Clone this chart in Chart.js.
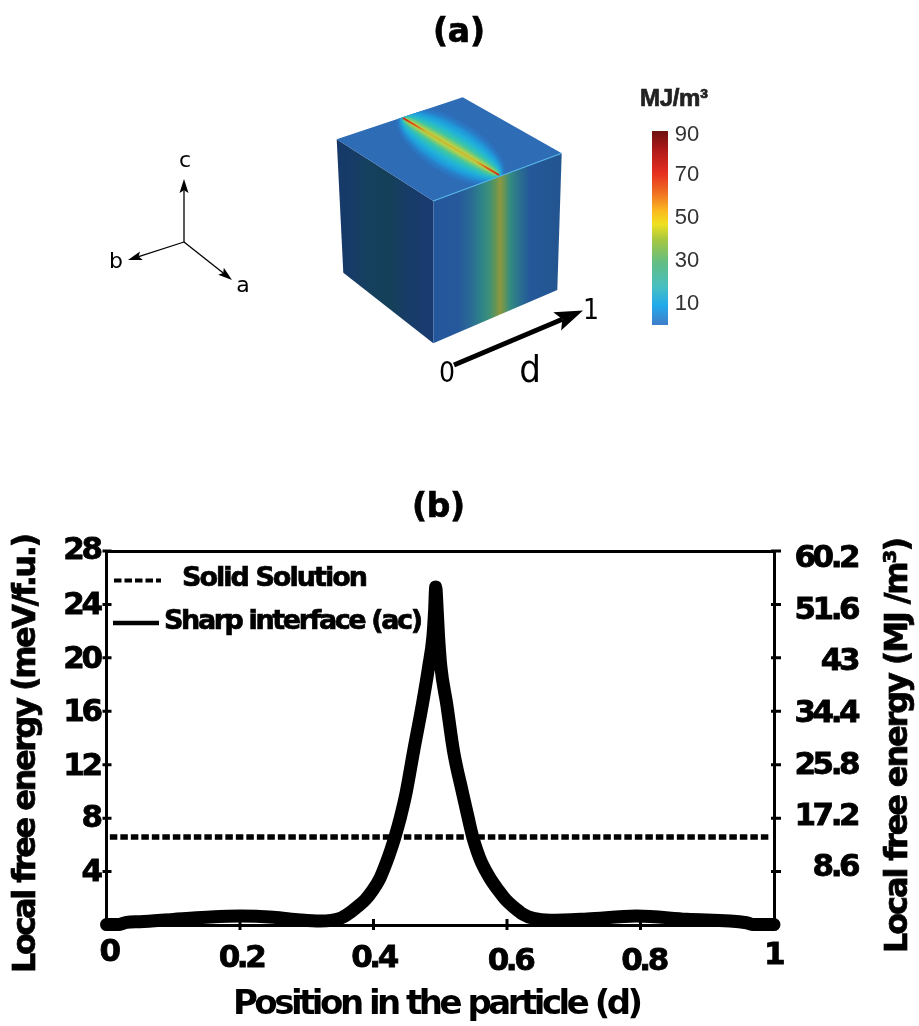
<!DOCTYPE html>
<html>
<head>
<meta charset="utf-8">
<style>
  html, body { margin: 0; background: #fff; }
  canvas { display: block; }
</style>
<script src="https://cdn.jsdelivr.net/npm/chart.js@4"></script>
</head>
<body>
<canvas id="chartEnergy" width="919" height="1026"></canvas>
<script>
// values ---------------------------------------------------------------------
const positions = [0, 0.015, 0.02, 0.03, 0.05, 0.1, 0.15, 0.2, 0.25, 0.29, 0.32, 0.35, 0.3625, 0.3757, 0.3875, 0.3988,
  0.4092, 0.4187, 0.4258, 0.4322, 0.4405, 0.4487, 0.4604, 0.4735, 0.4825, 0.489, 0.4915, 0.4932, 0.4955, 0.4975, 0.501,
  0.5095, 0.5196, 0.5335, 0.5415, 0.5486, 0.5555, 0.5625, 0.5745, 0.587, 0.598, 0.6094, 0.6245, 0.639, 0.665,
  0.72, 0.794, 0.869, 0.959, 0.969, 0.985, 1];
const sharpInterface = [0.03, 0.03, 0.05, 0.2, 0.25, 0.42, 0.58, 0.67, 0.58, 0.38, 0.3, 0.5, 0.85, 1.37, 1.88, 2.6,
  3.45, 4.6, 5.6, 6.6, 8.1, 9.86, 13.1, 16.6, 19.3, 21.6, 23.5, 25.3, 23.5, 21.6, 19.3,
  16.6, 13.1, 9.86, 8.1, 6.6, 5.5, 4.6, 3.5, 2.6, 1.9, 1.37, 0.8, 0.5, 0.35,
  0.45, 0.67, 0.43, 0.17, 0.03, 0.03, 0.03];
const solidPositions = [0.005, 0.995];
const solidSolution = [6.59, 6.59];

const xTicks = [0, 0.2, 0.4, 0.6, 0.8, 1];
const yLeftTicks = [4, 8, 12, 16, 20, 24, 28];
const yRightTicks = [8.6, 17.2, 25.8, 34.4, 43, 51.6, 60.2];
const colorbarLabels = ['10', '30', '50', '70', '90'];

const TITLE_FONT = 'bold 32px "DejaVu Sans"';

// small drawing helpers --------------------------------------------------------
function fitText(ctx, text, x, y, width, font, color) {
  ctx.save();
  ctx.font = font;
  ctx.letterSpacing = '0px';
  const natural = ctx.measureText(text).width;
  ctx.letterSpacing = ((width - natural) / (text.length - 1)) + 'px';
  ctx.textAlign = 'left';
  ctx.textBaseline = 'middle';
  ctx.fillStyle = color || '#000';
  ctx.strokeStyle = color || '#000';
  ctx.lineWidth = 0.7;
  ctx.fillText(text, x, y);
  ctx.strokeText(text, x, y);
  ctx.restore();
}

function fitTextUp(ctx, text, x, yBottom, width, font) {
  ctx.save();
  ctx.translate(x, yBottom);
  ctx.rotate(-Math.PI / 2);
  fitText(ctx, text, 0, 0, width, font);
  ctx.restore();
}

function plainText(ctx, text, x, y, font, color) {
  ctx.save();
  ctx.letterSpacing = '0px';
  ctx.font = font;
  ctx.fillStyle = color || '#000';
  ctx.textAlign = 'center';
  ctx.textBaseline = 'middle';
  ctx.fillText(text, x, y);
  ctx.restore();
}

function arrow(ctx, x0, y0, x1, y1, lineWidth, headLength, headWidth) {
  const a = Math.atan2(y1 - y0, x1 - x0);
  const bx = x1 - Math.cos(a) * headLength * 0.8;
  const by = y1 - Math.sin(a) * headLength * 0.8;
  ctx.strokeStyle = '#000';
  ctx.fillStyle = '#000';
  ctx.lineWidth = lineWidth;
  ctx.beginPath();
  ctx.moveTo(x0, y0);
  ctx.lineTo(bx, by);
  ctx.stroke();
  const wx = Math.cos(a + Math.PI / 2) * headWidth / 2;
  const wy = Math.sin(a + Math.PI / 2) * headWidth / 2;
  ctx.beginPath();
  ctx.moveTo(x1, y1);
  ctx.lineTo(x1 - Math.cos(a) * headLength + wx, y1 - Math.sin(a) * headLength + wy);
  ctx.lineTo(bx, by);
  ctx.lineTo(x1 - Math.cos(a) * headLength - wx, y1 - Math.sin(a) * headLength - wy);
  ctx.closePath();
  ctx.fill();
}

function polygon(ctx, pts) {
  ctx.beginPath();
  pts.forEach((p, i) => (i ? ctx.lineTo(p[0], p[1]) : ctx.moveTo(p[0], p[1])));
  ctx.closePath();
}

function gradientOf(ctx, x0, y0, x1, y1, stops) {
  const g = ctx.createLinearGradient(x0, y0, x1, y1);
  stops.forEach(s => g.addColorStop(s[0], s[1]));
  return g;
}

// panel (a) ----------------------------------------------------------------------
function drawCube(ctx) {
  const topLeft = [336.7, 139.3], topBack = [462.7, 97.3], topRight = [561.7, 153.3], front = [433.3, 201];
  const botFront = [433.3, 343.3], botLeft = [343.3, 272.7], botRight = [557.3, 290];

  ctx.save();
  polygon(ctx, [topLeft, front, botFront, botLeft]);
  ctx.fillStyle = gradientOf(ctx, 337, 0, 433, 0, [
    [0, '#16396a'], [0.18, '#173c66'], [0.34, '#15405e'], [0.55, '#144058'], [0.72, '#173c66'], [1, '#1a3a72']]);
  ctx.fill();

  polygon(ctx, [front, topRight, botRight, botFront]);
  ctx.fillStyle = gradientOf(ctx, 433, 0, 561, 0, [
    [0, '#24569c'], [0.2, '#26599b'], [0.3, '#2a6c95'], [0.38, '#2e8488'], [0.44, '#3d9078'], [0.49, '#659652'],
    [0.523, '#8f9640'], [0.555, '#6a9652'], [0.6, '#348c80'], [0.68, '#2a6e90'], [0.76, '#24589a'], [1, '#23558f']]);
  ctx.fill();

  polygon(ctx, [topLeft, topBack, topRight, front]);
  ctx.fillStyle = '#2e6cb6';
  ctx.fill();
  ctx.clip();

  // the bright lens on the top face, a slit from (403,118) to (499,175)
  const x0 = 403, y0 = 118, x1 = 499, y1 = 175;
  const angle = Math.atan2(y1 - y0, x1 - x0);
  const lens = [[60, 26, '#2a7cc8'], [58, 21, '#1f9ddc'], [57, 16, '#22b4d8'], [56, 11, '#35c4b0'], [55, 6, '#7acc70'], [54, 3, '#c8d040']];
  ctx.filter = 'blur(1.5px)';
  lens.forEach(l => {
    ctx.beginPath();
    ctx.ellipse((x0 + x1) / 2, (y0 + y1) / 2, l[0], l[1], angle, 0, Math.PI * 2);
    ctx.fillStyle = l[2];
    ctx.fill();
  });
  ctx.filter = 'blur(0.5px)';
  ctx.strokeStyle = gradientOf(ctx, x0, y0, x1, y1, [
    [0, '#d02a12'], [0.12, '#e0501a'], [0.24, '#c8b830'], [0.76, '#c8b830'], [0.88, '#e0501a'], [1, '#d02a12']]);
  ctx.lineWidth = 2;
  ctx.beginPath();
  ctx.moveTo(x0, y0);
  ctx.lineTo(x1, y1);
  ctx.stroke();
  ctx.restore();

  ctx.save();
  ctx.strokeStyle = '#55b4e6';
  ctx.lineWidth = 1.2;
  ctx.beginPath();
  ctx.moveTo(front[0], front[1]);
  ctx.lineTo(topRight[0], topRight[1]);
  ctx.stroke();
  ctx.restore();
}

function drawPanelA(ctx) {
  fitText(ctx, '(a)', 433, 33, 52, 'bold 33px "DejaVu Sans"');

  // crystal axes
  ctx.save();
  arrow(ctx, 184, 242, 184, 179, 1.3, 14, 9);
  arrow(ctx, 184, 242, 128, 260, 1.3, 14, 9);
  arrow(ctx, 184, 242, 232, 280, 1.3, 14, 9);
  ctx.restore();
  const axisFont = '22px "DejaVu Sans"';
  plainText(ctx, 'c', 185, 161, axisFont);
  plainText(ctx, 'b', 116, 262, axisFont);
  plainText(ctx, 'a', 243, 286, axisFont);

  drawCube(ctx);

  // position arrow along the particle
  ctx.save();
  arrow(ctx, 454, 365, 583, 310.5, 5, 28, 20);
  ctx.restore();
  const bigFont = '28px "DejaVu Sans Condensed", "DejaVu Sans"';
  plainText(ctx, '0', 447, 375, bigFont);
  plainText(ctx, '1', 591, 312, bigFont);
  plainText(ctx, 'd', 530, 372, '38px "DejaVu Sans Condensed", "DejaVu Sans"');

  // color bar
  ctx.save();
  ctx.fillStyle = gradientOf(ctx, 0, 325, 0, 131, [
    [0, '#3f7cc8'], [0.1, '#22aaec'], [0.2, '#48c0c0'], [0.32, '#62bd84'], [0.44, '#a6c840'], [0.52, '#f0e020'],
    [0.59, '#fab820'], [0.68, '#f07022'], [0.78, '#e63020'], [0.9, '#b01a18'], [1, '#6e1010']]);
  ctx.fillRect(652, 131, 16, 194);
  ctx.restore();
  const barFont = '22px "Liberation Sans"';
  const barY = [304, 261, 218, 175, 135];
  colorbarLabels.forEach((t, i) => plainText(ctx, t, 687, barY[i], barFont, '#333'));
  fitText(ctx, 'MJ/m³', 640, 99, 68, 'bold 24px "Liberation Sans"', '#222');
}

// plugin: everything that is not a data mark -------------------------------------
const xLabelNudge = [[2, -6], [1, 0], [0, 0], [3, 3], [3, 3], [-1, -3]];
const leftLabelNudge = [1, 1, 2, 2, 2, 2, 0];
const rightLabelNudge = [-4, -1, 1, 3, 4, 7, 8];
const RIGHT_LABEL_EDGE = 857;

function nudgeLabels(scale, fn) {
  const items = scale.getLabelItems();
  if (items.nudged) return;
  items.nudged = true;
  items.forEach((it, i) => fn(it.options.translation, i));
}

const panelPlugin = {
  id: 'panelPlugin',
  beforeDraw(chart) {
    const ctx = chart.ctx;
    ctx.save();
    ctx.fillStyle = '#fff';
    ctx.fillRect(0, 0, chart.width, chart.height);
    ctx.restore();

    drawPanelA(ctx);
    fitText(ctx, '(b)', 412, 508, 53, 'bold 33px "DejaVu Sans"');

    nudgeLabels(chart.scales.x, (t, i) => { t[0] += xLabelNudge[i][0]; t[1] += xLabelNudge[i][1]; });
    nudgeLabels(chart.scales.y, (t, i) => { t[1] += leftLabelNudge[i]; });
    nudgeLabels(chart.scales.yRight, (t, i) => { t[0] = RIGHT_LABEL_EDGE; t[1] += rightLabelNudge[i]; });

    // ticks cross the axis lines, the library only draws them outwards
    const { x, y, yRight } = chart.scales;
    ctx.save();
    ctx.strokeStyle = '#000';
    ctx.lineWidth = 3;
    ctx.beginPath();
    x.ticks.forEach(t => {
      const px = x.getPixelForValue(t.value);
      ctx.moveTo(px, x.top - 6);
      ctx.lineTo(px, x.top + 5);
    });
    y.ticks.forEach(t => {
      const py = y.getPixelForValue(t.value);
      ctx.moveTo(y.right - 4, py);
      ctx.lineTo(y.right + 5, py);
    });
    yRight.ticks.forEach(t => {
      const py = yRight.getPixelForValue(t.value);
      ctx.moveTo(yRight.left - 3, py);
      ctx.lineTo(yRight.left + 7, py);
    });
    ctx.stroke();
    ctx.restore();

    fitTextUp(ctx, 'Local free energy (meV/f.u.)', 27, 973, 440, TITLE_FONT);
    fitTextUp(ctx, 'Local free energy (MJ /m³)', 899, 953, 416, TITLE_FONT);

    // tick labels in the picture sit tight
    ctx.letterSpacing = '-3.5px';

    const xScale = chart.scales.x;
    if (!xScale.titleMoved) {
      // axis title sits a little left of the plot centre
      xScale.titleMoved = true;
      const drawTitle = xScale.drawTitle;
      xScale.drawTitle = function () {
        ctx.save();
        ctx.translate(-4, 0);
        drawTitle.call(this);
        ctx.restore();
      };
    }
  },
  afterDraw(chart) {
    const ctx = chart.ctx;
    ctx.letterSpacing = '0px';
    const sets = chart.data.datasets;

    // legend inside the axes
    ctx.save();
    ctx.strokeStyle = '#000';
    ctx.lineWidth = 4;
    ctx.setLineDash(sets[0].borderDash);
    ctx.beginPath();
    ctx.moveTo(114, 580.5);
    ctx.lineTo(161, 580.5);
    ctx.stroke();
    ctx.setLineDash([]);
    ctx.lineWidth = 4.5;
    ctx.beginPath();
    ctx.moveTo(113, 623);
    ctx.lineTo(159, 623);
    ctx.stroke();
    ctx.restore();
    fitText(ctx, sets[0].label, 182, 579, 186, 'bold 27px "DejaVu Sans"');
    fitText(ctx, sets[1].label, 164, 622, 259, 'bold 27px "DejaVu Sans"');
  }
};

// panel (b) ----------------------------------------------------------------------
function chartEnergy() {
  const blackBorder = { display: true, color: '#000', width: 3 };
  const tickFont = { family: '"DejaVu Sans"', size: 31, weight: 'bold' };
  const tickStyle = { color: '#000', font: tickFont, textStrokeColor: '#000', textStrokeWidth: 0.8, autoSkip: false, callback: v => String(v) };

  new Chart(document.getElementById('chartEnergy'), {
    type: 'line',
    data: {
      datasets: [{
        label: 'Solid Solution',
        data: solidPositions.map((p, i) => ({ x: p, y: solidSolution[i] })),
        borderColor: '#000',
        borderWidth: 5.5,
        borderDash: [7.5, 3],
        pointRadius: 0,
        clip: false,
        yAxisID: 'y'
      }, {
        label: 'Sharp interface (ac)',
        data: positions.map((p, i) => ({ x: p, y: sharpInterface[i] })),
        borderColor: '#000',
        borderWidth: 13,
        borderCapStyle: 'round',
        borderJoinStyle: 'round',
        cubicInterpolationMode: 'monotone',
        pointRadius: 0,
        clip: false,
        yAxisID: 'y'
      }]
    },
    options: {
      responsive: false,
      animation: false,
      layout: { padding: { top: 551 } },
      plugins: { legend: { display: false }, tooltip: { enabled: false } },
      scales: {
        x: {
          type: 'linear',
          position: 'bottom',
          min: 0,
          max: 1,
          border: blackBorder,
          grid: { display: false, drawTicks: false },
          afterBuildTicks: s => { s.ticks = xTicks.map(v => ({ value: v })); },
          afterFit: s => { s.height = 101; },
          ticks: { ...tickStyle, padding: 15, maxRotation: 0 },
          title: {
            display: true,
            text: 'Position in the particle (d)',
            color: '#000',
            font: { family: '"DejaVu Sans"', size: 34, weight: 'bold' },
            padding: { top: 0, bottom: 0 }
          }
        },
        xTop: {
          type: 'linear',
          position: 'top',
          min: 0,
          max: 1,
          border: blackBorder,
          grid: { display: false, drawTicks: false },
          ticks: { display: false }
        },
        y: {
          type: 'linear',
          position: 'left',
          min: 0,
          max: 28,
          border: blackBorder,
          grid: { display: false, drawTicks: false },
          afterBuildTicks: s => { s.ticks = yLeftTicks.map(v => ({ value: v })); },
          afterFit: s => { s.width = 106.5; },
          ticks: { ...tickStyle, padding: 7 }
        },
        yRight: {
          type: 'linear',
          position: 'right',
          min: 0,
          max: 60.2,
          border: blackBorder,
          grid: { display: false, drawTicks: false },
          afterBuildTicks: s => { s.ticks = yRightTicks.map(v => ({ value: v })); },
          afterFit: s => { s.width = 145; },
          ticks: { ...tickStyle, padding: 8, crossAlign: 'far' }
        }
      }
    },
    plugins: [panelPlugin]
  });
}

chartEnergy();
</script>
</body>
</html>
